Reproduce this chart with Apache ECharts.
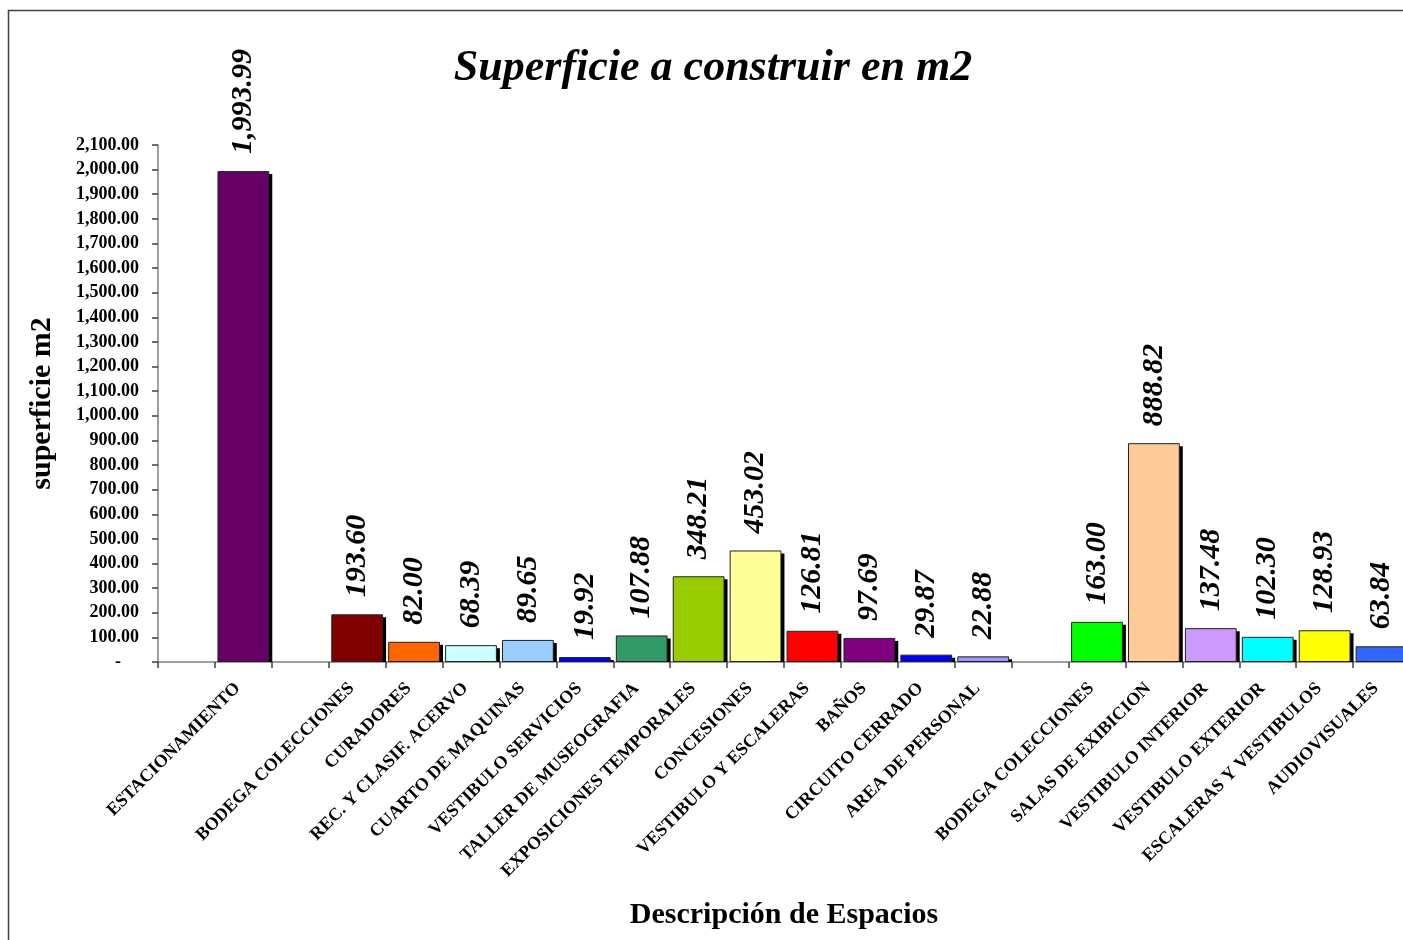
<!DOCTYPE html>
<html>
<head>
<meta charset="utf-8">
<title>Superficie a construir en m2</title>
<script src="https://cdn.jsdelivr.net/npm/echarts@6/dist/echarts.min.js"></script>
<style>
  html, body { margin: 0; padding: 0; background: #fff; }
  #chart { width: 1403px; height: 940px; }
</style>
</head>
<body>
<div id="chart"></div>
<script>
// Space descriptions (empty entries are spacer slots between groups)
const categories = [
  '', 'ESTACIONAMIENTO', '',
  'BODEGA COLECCIONES', 'CURADORES', 'REC. Y CLASIF. ACERVO', 'CUARTO DE MAQUINAS',
  'VESTIBULO SERVICIOS', 'TALLER DE MUSEOGRAFIA', 'EXPOSICIONES TEMPORALES', 'CONCESIONES',
  'VESTIBULO Y ESCALERAS', 'BAÑOS', 'CIRCUITO CERRADO', 'AREA DE PERSONAL', '',
  'BODEGA COLECCIONES', 'SALAS DE EXIBICION', 'VESTIBULO INTERIOR', 'VESTIBULO EXTERIOR',
  'ESCALERAS Y VESTIBULOS', 'AUDIOVISUALES'
];

// Surface in m2 per space
const areas = [
  null, 1993.99, null,
  193.60, 82.00, 68.39, 89.65,
  19.92, 107.88, 348.21, 453.02,
  126.81, 97.69, 29.87, 22.88, null,
  163.00, 888.82, 137.48, 102.30,
  128.93, 63.84
];

// Fill colour per space
const barColors = [
  null, '#660066', null,
  '#800000', '#FF6600', '#CCFFFF', '#99CCFF',
  '#0000FF', '#339966', '#99CC00', '#FFFF99',
  '#FF0000', '#800080', '#0000FF', '#9999FF', null,
  '#00FF00', '#FFCC99', '#CC99FF', '#00FFFF',
  '#FFFF00', '#3366FF'
];

const yTicks = { min: 0, max: 2100, step: 100 };

const SERIF = '"Liberation Serif", "Times New Roman", serif';
const BAR_FRACTION = 0.91;   // bar width as a share of the category band
const SHADOW_OFFSET = 3;     // drop shadow offset in px

function fmtNum(v) {
  return Number(v).toLocaleString('en-US', { minimumFractionDigits: 2, maximumFractionDigits: 2 });
}

const chart = echarts.init(document.getElementById('chart'), null, { renderer: 'canvas' });

const barData = areas.map((v, i) => (v === null ? null : {
  value: v,
  itemStyle: { color: barColors[i] }
}));

const shadowData = areas
  .map((v, i) => [i, v])
  .filter(d => d[1] !== null);

// Solid black drop shadow behind each bar, offset down-right
function renderShadow(params, api) {
  const idx = api.value(0);
  const val = api.value(1);
  const top = api.coord([idx, val]);
  const base = api.coord([idx, 0]);
  const band = api.size([1, 0])[0];
  const w = band * BAR_FRACTION;
  return {
    type: 'rect',
    shape: {
      x: top[0] - w / 2 + SHADOW_OFFSET,
      y: top[1] + SHADOW_OFFSET,
      width: w,
      height: Math.max(0, base[1] - top[1] - SHADOW_OFFSET)
    },
    style: { fill: '#000' },
    silent: true
  };
}

chart.setOption({
  backgroundColor: '#ffffff',
  animation: false,
  title: {
    text: 'Superficie a construir en m2',
    left: 708,
    top: 42,
    textAlign: 'center',
    textStyle: {
      fontFamily: SERIF,
      fontSize: 44,
      fontWeight: 'bold',
      fontStyle: 'italic',
      color: '#000'
    }
  },
  graphic: [{
    type: 'rect',
    shape: { x: 8.5, y: 10.5, width: 1500, height: 1000 },
    style: { fill: 'none', stroke: '#404040', lineWidth: 1.5 },
    silent: true
  }],
  grid: {
    left: 158,
    width: 1252,
    top: 145,
    height: 517,
    containLabel: false,
    outerBoundsMode: 'none'
  },
  xAxis: {
    type: 'category',
    data: categories,
    boundaryGap: true,
    name: 'Descripción de Espacios',
    nameLocation: 'middle',
    nameGap: 238,
    nameTextStyle: {
      fontFamily: SERIF,
      fontSize: 30,
      fontWeight: 'bold',
      color: '#000'
    },
    axisLine: { show: true, lineStyle: { color: '#808080', width: 1.5 } },
    axisTick: { show: true, interval: 0, length: 6, inside: false, lineStyle: { color: '#404040', width: 1.5 } },
    axisLabel: {
      interval: 0,
      rotate: 45,
      margin: 18,
      padding: [0, 8, 0, 0],
      fontFamily: SERIF,
      fontSize: 18,
      fontWeight: 'bold',
      color: '#000'
    },
    splitLine: { show: false }
  },
  yAxis: {
    type: 'value',
    min: yTicks.min,
    max: yTicks.max,
    interval: yTicks.step,
    name: 'superficie m2',
    nameLocation: 'middle',
    nameRotate: 90,
    nameGap: 101,
    nameTextStyle: {
      fontFamily: SERIF,
      fontSize: 30,
      fontWeight: 'bold',
      color: '#000'
    },
    axisLine: { show: true, lineStyle: { color: '#808080', width: 1.5 } },
    axisTick: { show: true, length: 6, inside: false, lineStyle: { color: '#404040', width: 1.5 } },
    axisLabel: {
      margin: 19,
      fontFamily: SERIF,
      fontSize: 18,
      fontWeight: 'bold',
      color: '#000',
      // accounting style: zero shows as a dash set in from the right
      formatter: v => (v === 0 ? '-\u2007\u2007' : fmtNum(v))
    },
    splitLine: { show: false }
  },
  series: [
    {
      type: 'custom',
      name: 'sombra',
      data: shadowData,
      encode: { x: 0, y: 1 },
      renderItem: renderShadow,
      z: 1,
      silent: true
    },
    {
      type: 'bar',
      name: 'superficie m2',
      data: barData,
      barWidth: (BAR_FRACTION * 100) + '%',
      z: 2,
      itemStyle: {
        borderColor: '#222',
        borderWidth: 1
      },
      label: {
        show: true,
        position: 'top',
        rotate: 90,
        align: 'left',
        verticalAlign: 'middle',
        distance: 17,
        fontFamily: SERIF,
        fontSize: 30,
        fontWeight: 'bold',
        fontStyle: 'italic',
        color: '#000',
        formatter: p => fmtNum(p.value)
      }
    }
  ]
});
</script>
</body>
</html>
